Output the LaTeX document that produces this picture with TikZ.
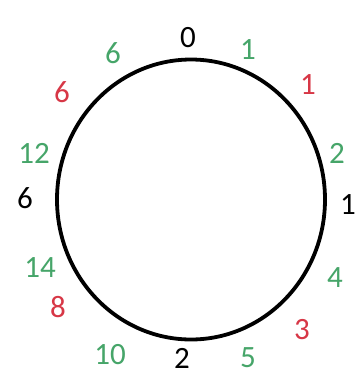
\documentclass[tikz,border=0pt]{standalone}
\usepackage{fontspec}
\setmainfont{Carlito}
\definecolor{lgreen}{RGB}{70,165,105}
\definecolor{lred}{RGB}{215,55,70}
\begin{document}
\begin{tikzpicture}[x=1pt,y=-1pt,
  lab/.style={font=\fontsize{31}{31}\selectfont, inner sep=0pt, anchor=center},
  g/.style={lab, text=lgreen}, r/.style={lab, text=lred}, k/.style={lab, text=black}]
\useasboundingbox (0,0) rectangle (362,376);
\draw[line width=3.8pt] (191,199.5) ellipse [x radius=134, y radius=140];
\node[k] (n0) at (188,38) {0};
\node[g] (g6) at (113,53) {6};
\node[g] (g1) at (248,50) {1};
\node[r] (r6) at (62,92) {6};
\node[r] (r1) at (308,85) {1};
\node[g] (g12) at (34,153) {12};
\node[k] (k6) at (25,198) {6};
\node[g] (g2) at (337,153) {2};
\node[k] (k1) at (348,205) {1};
\node[g] (g14) at (40,268) {14};
\node[r] (r8) at (58,307) {8};
\node[g] (g4) at (335,278) {4};
\node[r] (r3) at (302,330) {3};
\node[g] (g10) at (110,355) {10};
\node[k] (k2) at (182,358) {2};
\node[g] (g5) at (248,358) {5};
\end{tikzpicture}
\end{document}
